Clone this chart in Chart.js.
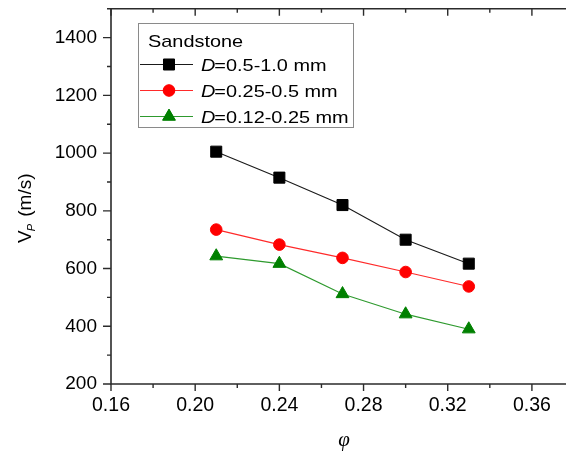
<!DOCTYPE html>
<html>
<head>
<meta charset="utf-8">
<script src="https://cdn.jsdelivr.net/npm/chart.js@4/dist/chart.umd.min.js"></script>
<style>
  html, body { margin: 0; padding: 0; background: #ffffff; overflow: hidden; }
  #wrap { width: 600px; height: 457px; }
</style>
</head>
<body>
<div id="wrap"><canvas id="c" width="600" height="457"></canvas></div>
<script>
// Porosity values and P-wave velocities for three grain-size groups
const porosity = [0.21, 0.24, 0.27, 0.30, 0.33];
const vpCoarse = [1005, 915, 820, 700, 617];
const vpMedium = [735, 683, 637, 588, 538];
const vpFine   = [643, 617, 512, 442, 390];

const seriesLabels = ['=0.5-1.0 mm', '=0.25-0.5 mm', '=0.12-0.25 mm'];
const legendTitle = 'Sandstone';

const xTicks = [0.16, 0.20, 0.24, 0.28, 0.32, 0.36];
const xMinor = [0.18, 0.22, 0.26, 0.30, 0.34, 0.38];
const yTicks = [200, 400, 600, 800, 1000, 1200, 1400];
const yMinor = [300, 500, 700, 900, 1100, 1300, 1500];

const FONT = '"Liberation Sans", Arial, sans-serif';

function pts(ys) { return porosity.map((x, i) => ({ x: x, y: ys[i] })); }

const styles = [
  { color: '#000000', line: '#1a1a1a', pointStyle: 'rect', radius: 7.8 },
  { color: '#ff0000', line: '#ff2a2a', pointStyle: 'circle', radius: 5.8 },
  { color: '#008000', line: '#2e9a2e', pointStyle: 'triangle', radius: 7.4 }
];
const values = [vpCoarse, vpMedium, vpFine];

const datasets = values.map((v, i) => ({
  label: seriesLabels[i],
  data: pts(v),
  showLine: true,
  borderColor: styles[i].line,
  borderWidth: 1.1,
  pointStyle: styles[i].pointStyle,
  pointRadius: styles[i].radius,
  pointHoverRadius: styles[i].radius,
  pointBackgroundColor: styles[i].color,
  pointBorderColor: styles[i].color,
  pointBorderWidth: 1
}));

// Frame, tick marks, axis titles and the boxed legend
const decorations = {
  id: 'decorations',
  afterDraw(chart) {
    const ctx = chart.ctx;
    const a = chart.chartArea;
    const xs = chart.scales.x, ys = chart.scales.y;
    ctx.save();
    ctx.strokeStyle = '#2b2b2b';
    ctx.lineWidth = 1.6;
    ctx.beginPath();
    ctx.moveTo(a.left, a.top); ctx.lineTo(a.left, a.bottom);
    ctx.lineTo(a.right, a.bottom);
    ctx.moveTo(a.left, a.top); ctx.lineTo(a.right, a.top);
    ctx.moveTo(a.right, a.top); ctx.lineTo(a.right, a.bottom);
    ctx.stroke();

    ctx.lineWidth = 1.4;
    ctx.beginPath();
    const tickX = (v, len) => {
      const px = xs.getPixelForValue(v);
      ctx.moveTo(px, a.bottom); ctx.lineTo(px, a.bottom + len);
      ctx.moveTo(px, a.top); ctx.lineTo(px, a.top + len);
    };
    xTicks.forEach(v => tickX(v, 7));
    xMinor.forEach(v => tickX(v, 4));
    const tickY = (v, len) => {
      const py = ys.getPixelForValue(v);
      ctx.moveTo(a.left, py); ctx.lineTo(a.left - len, py);
      ctx.moveTo(a.right, py); ctx.lineTo(a.right - len, py);
    };
    yTicks.forEach(v => tickY(v, 8));
    yMinor.forEach(v => tickY(v, 4));
    ctx.stroke();

    // x-axis title
    ctx.fillStyle = '#000';
    ctx.font = 'italic 21px "Liberation Serif", "Times New Roman", serif';
    ctx.textAlign = 'center';
    ctx.textBaseline = 'alphabetic';
    ctx.fillText('\u03C6', xs.getPixelForValue(0.2707), 446);

    // y-axis title, rotated
    ctx.save();
    ctx.translate(31, 243);
    ctx.rotate(-Math.PI / 2);
    ctx.textAlign = 'left';
    ctx.font = '19px ' + FONT;
    ctx.fillText('V', 0, 0);
    let w = ctx.measureText('V').width;
    ctx.font = 'italic 11px ' + FONT;
    ctx.fillText('P', w - 1, 4);
    w += ctx.measureText('P').width + 1;
    ctx.font = '19px ' + FONT;
    ctx.fillText(' (m/s)', w, 0);
    ctx.restore();

    // legend box
    const bx = 138, by = 23, bw = 215, bh = 104;
    ctx.strokeStyle = '#8a8a8a';
    ctx.lineWidth = 1;
    ctx.strokeRect(bx + 0.5, by + 0.5, bw, bh);

    const wideText = (txt, x, y, font) => {
      ctx.save();
      ctx.translate(x, y);
      ctx.scale(1.17, 1);
      ctx.font = font;
      ctx.fillText(txt, 0, 0);
      const m = ctx.measureText(txt).width * 1.17;
      ctx.restore();
      return m;
    };
    ctx.fillStyle = '#000';
    ctx.textAlign = 'left';
    wideText(legendTitle, 148, 47, '17px ' + FONT);

    const rows = [64.5, 90.5, 116.5];
    datasets.forEach((ds, i) => {
      const y = rows[i];
      ctx.strokeStyle = ds.borderColor;
      ctx.lineWidth = 1.1;
      ctx.beginPath();
      ctx.moveTo(140, y); ctx.lineTo(193, y);
      ctx.stroke();
      ctx.fillStyle = ds.pointBackgroundColor;
      ctx.strokeStyle = ds.pointBorderColor;
      ctx.lineWidth = 1;
      Chart.helpers.drawPoint(ctx, { pointStyle: ds.pointStyle, radius: ds.pointRadius, rotation: 0, borderWidth: 1 }, 169, y);
      ctx.fill();
      ctx.fillStyle = '#000';
      const tb = y + 6;
      const dw = wideText('D', 201, tb, 'italic 17px ' + FONT);
      wideText(ds.label, 201 + dw - 1, tb, '17px ' + FONT);
    });
    ctx.restore();
  }
};

new Chart(document.getElementById('c'), {
  type: 'scatter',
  data: { datasets: datasets },
  options: {
    responsive: false,
    animation: false,
    layout: { padding: { left: 0, top: 8, right: 26, bottom: 0 } },
    plugins: { legend: { display: false }, tooltip: { enabled: false } },
    scales: {
      x: {
        type: 'linear', min: 0.16, max: 0.38,
        afterBuildTicks: s => { s.ticks = xTicks.map(v => ({ value: v })); },
        afterFit: s => { s.height = 73; s.paddingLeft = 0; s.paddingRight = 0; },
        grid: { display: false, drawTicks: false },
        border: { display: false },
        ticks: {
          autoSkip: false, maxRotation: 0, padding: 10,
          color: '#000', font: { family: FONT, size: 19.5 },
          callback: v => Number(v).toFixed(2)
        }
      },
      y: {
        type: 'linear', min: 200, max: 1500,
        afterBuildTicks: s => { s.ticks = yTicks.map(v => ({ value: v })); },
        afterFit: s => { s.width = 111; s.paddingTop = 0; s.paddingBottom = 0; },
        grid: { display: false, drawTicks: false },
        border: { display: false },
        ticks: {
          autoSkip: false, padding: 14,
          color: '#000', font: { family: FONT, size: 19 },
          callback: v => String(v)
        }
      }
    }
  },
  plugins: [decorations]
});
</script>
</body>
</html>
